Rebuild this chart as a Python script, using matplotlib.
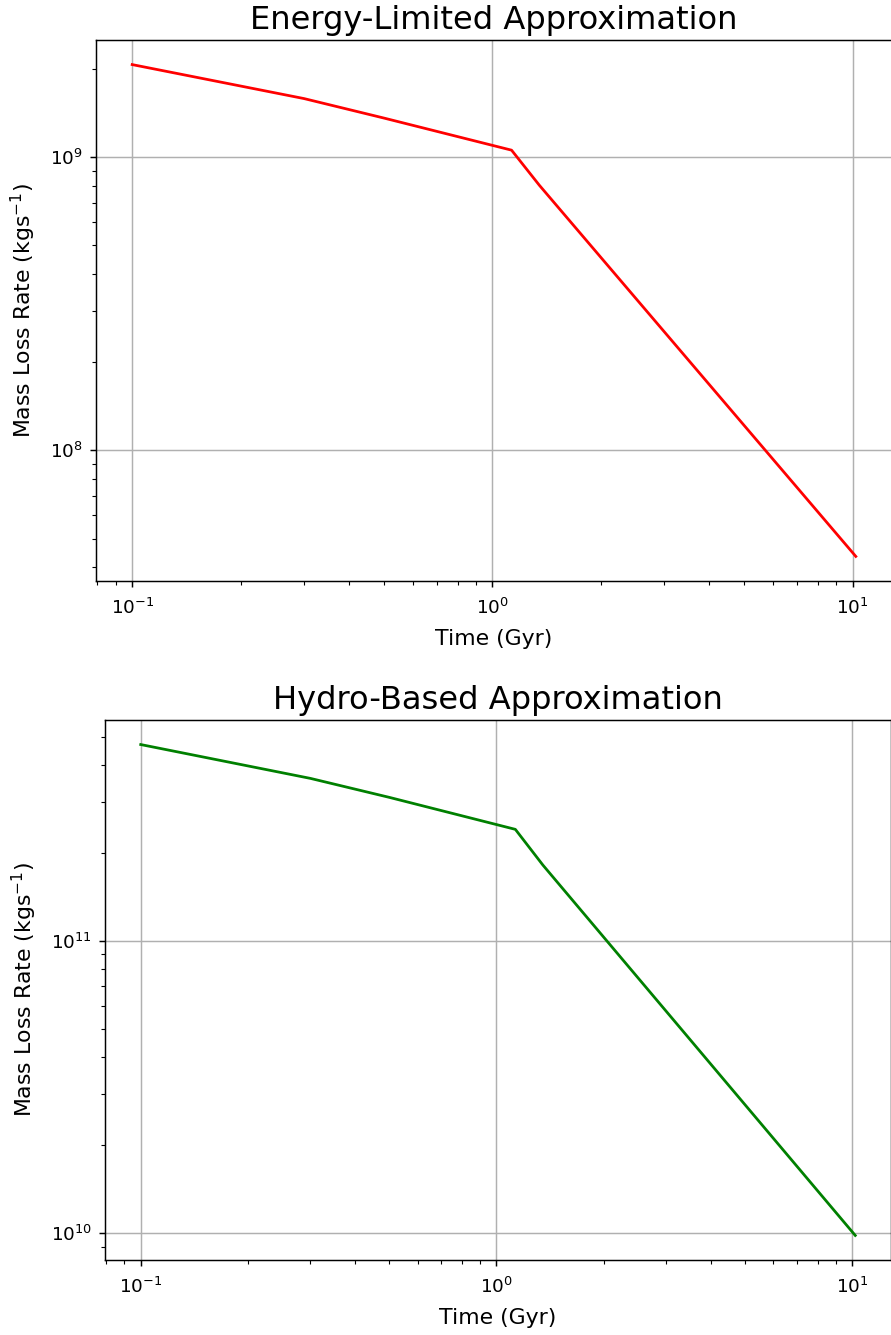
import matplotlib
matplotlib.use("Agg")
import matplotlib.pyplot as plt
import numpy as np

# time in Gyr
time_gyr = [0.1, 0.3, 0.5, 1.13, 1.35, 10.2]

# mass loss rates (kg/s)
energy_limited = [2.07e9, 1.585e9, 1.36e9, 1.057e9, 8.02e8, 4.35e7]
hydro_based = [4.70e11, 3.60e11, 3.10e11, 2.41e11, 1.82e11, 9.84e9]

fig = plt.figure(figsize=(891 / 132, 1335 / 132), dpi=132)

ax1 = fig.add_axes([96 / 891, 1 - 581 / 1335, 796 / 891, 541 / 1335])
ax1.plot(time_gyr, energy_limited, color="r")
ax1.set_xscale("log")
ax1.set_yscale("log")
ax1.grid(True)
ax1.tick_params(axis="x", which="major", pad=5.5)
ax1.set_title("Energy-Limited Approximation", fontsize=17.5)
ax1.set_xlabel("Time (Gyr)", fontsize=12, labelpad=6)
ax1.set_ylabel("Mass Loss Rate (kgs$^{-1}$)", fontsize=12, labelpad=6.5)

ax2 = fig.add_axes([105 / 891, 1 - 1260 / 1335, 786 / 891, 540 / 1335])
ax2.plot(time_gyr, hydro_based, color="g")
ax2.set_xscale("log")
ax2.set_yscale("log")
ax2.grid(True)
ax2.tick_params(axis="x", which="major", pad=5.5)
ax2.set_title("Hydro-Based Approximation", fontsize=17.5)
ax2.set_xlabel("Time (Gyr)", fontsize=12, labelpad=6)
ax2.set_ylabel("Mass Loss Rate (kgs$^{-1}$)", fontsize=12, labelpad=6.5)

fig.savefig("out.png", dpi=132)
